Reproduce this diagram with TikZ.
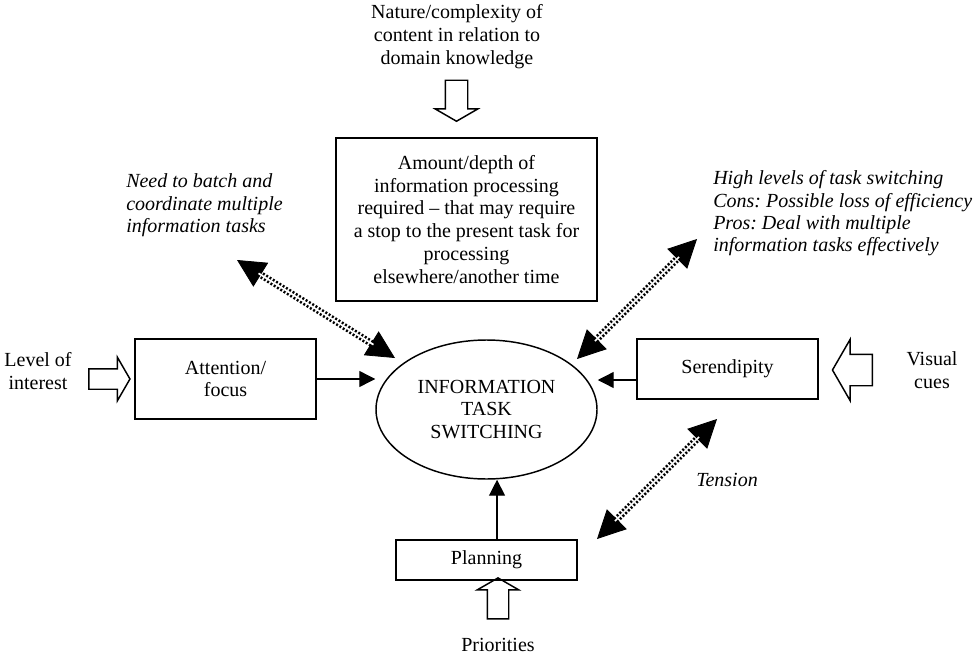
\documentclass[tikz,border=0pt]{standalone}
\usepackage{fontspec}
\setmainfont{Liberation Serif}
\usetikzlibrary{arrows.meta,shapes.geometric,shapes.arrows}
\newdimen\pxu \pxu=0.75pt
\frenchspacing
\begin{document}
\begin{tikzpicture}[x=0.75pt,y=-0.75pt,font=\fontsize{15}{17.2}\selectfont,
  box/.style={draw, line width=1.1pt, inner sep=0pt, align=center},
  lbl/.style={align=center, inner sep=0pt},
  ital/.style={align=left, inner sep=0pt, font=\fontsize{15}{16.8}\selectfont\itshape, anchor=west},
  hollow/.style={single arrow, draw, line width=1.1pt, single arrow tip angle=120, inner xsep=0pt,
     inner ysep=10*\pxu, minimum height=41*\pxu, single arrow head extend=10*\pxu},
  conn/.style={-{Triangle[length=12pt,width=12pt]}, line width=1pt},
  bigtips/.style={{Triangle[length=21pt,width=21pt]}-{Triangle[length=21pt,width=21pt]}, line width=0.6pt},
  dotline/.style={line width=5.2pt, dash pattern=on 1.5pt off 1.4pt, shorten <=19pt, shorten >=19pt,
     postaction={draw=white, line width=1.3pt, solid, shorten <=19pt, shorten >=19pt}}]
\useasboundingbox (0,0) rectangle (977,656);
\node[lbl] (nature) at (457,37) {Nature/complexity of\\content in relation to\\domain knowledge};
\node[hollow, rotate=-90, inner ysep=10.5*\pxu] (na) at (456.5,97.5) {};
\node[box, minimum width=261*\pxu, minimum height=163*\pxu] (amount) at (466.5,219.5)
  {Amount/depth of\\information processing\\required -- that may require\\a stop to the present task for\\processing\\elsewhere/another time};
\node[draw, ellipse, line width=1.1pt, minimum width=221*\pxu, minimum height=139*\pxu, inner sep=0pt, align=center]
  (its) at (486.5,409.5) {INFORMATION\\TASK\\SWITCHING};
\node[box, minimum width=181*\pxu, minimum height=80*\pxu] (att) at (225.5,379) {Attention/\\focus};
\node[box, minimum width=181*\pxu, minimum height=60*\pxu] (ser) at (727.5,369) {Serendipity};
\node[box, minimum width=181*\pxu, minimum height=40*\pxu] (plan) at (486.5,560) {Planning};
\node[lbl] (level) at (38,371) {Level of\\interest};
\node[hollow, inner ysep=9.5*\pxu, single arrow head extend=11.5*\pxu] (la) at (106.5,379) {};
\node[lbl] (visual) at (932,370) {Visual\\cues};
\node[hollow, rotate=180, inner ysep=15*\pxu, minimum height=40*\pxu, single arrow head extend=15*\pxu] (va) at (857,370) {};
\node[lbl] (prio) at (498,645) {Priorities};
\node[hollow, rotate=90] (pa) at (498,601.5) {};
\node[ital] (batch) at (126,205.5) {Need to batch and\\coordinate multiple\\information tasks};
\node[ital] (high) at (713,213.5) {High levels of task switching\\Cons: Possible loss of efficiency\\Pros: Deal with multiple\\information tasks effectively};
\node[ital, anchor=center] (tension) at (727,480) {Tension};
\coordinate (b1) at (237,260); \coordinate (b2) at (395,358);
\coordinate (h1) at (697,239); \coordinate (h2) at (577,359);
\coordinate (t1) at (717,419); \coordinate (t2) at (597,539);
\foreach \p/\q in {b1/b2,h1/h2,t1/t2}{
  \draw[bigtips] (\p) -- (\q);
  \draw[dotline] (\p) -- (\q);
}
\draw[conn] (att.east) -- (att.east -| its.west);
\draw[conn] ([yshift=-8.25pt]ser.west) -- ([yshift=-8.25pt]ser.west -| its.east);
\draw[conn] ([xshift=7.9pt]plan.north) -- ([xshift=7.9pt]plan.north |- its.south);
\end{tikzpicture}
\end{document}
